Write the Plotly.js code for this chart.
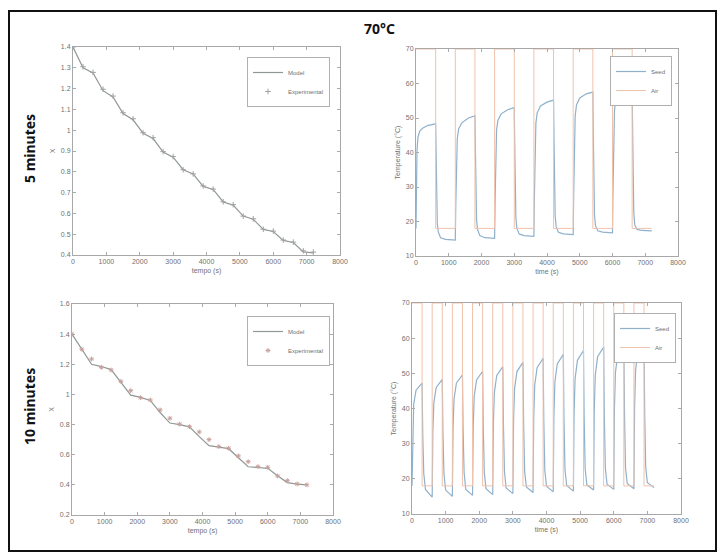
<!DOCTYPE html>
<html>
<head>
<meta charset="utf-8">
<script src="https://cdn.plot.ly/plotly-3.0.1.min.js"></script>
<style>html,body{margin:0;padding:0;background:#fff;}#chart{width:721px;height:555px;}</style>
</head>
<body>
<div id="chart"></div>
<script>
// ---------- Panel A: 5 minutes, moisture X ----------
const timeX = [0,300,600,900,1200,1500,1800,2100,2400,2700,3000,3300,3600,3900,4200,4500,4800,5100,5400,5700,6000,6300,6600,6900,7200];
const modelA = [1.40,1.30,1.275,1.19,1.16,1.08,1.05,0.985,0.96,0.895,0.87,0.81,0.79,0.73,0.715,0.655,0.64,0.587,0.572,0.523,0.513,0.47,0.46,0.415,0.41];
const expA   = [1.40,1.305,1.278,1.197,1.164,1.084,1.055,0.988,0.964,0.897,0.873,0.81,0.79,0.732,0.717,0.656,0.642,0.587,0.574,0.524,0.515,0.472,0.462,0.42,0.414];

// ---------- Panel C: 10 minutes, moisture X ----------
const modelC = [1.40,1.30,1.20,1.185,1.165,1.08,0.995,0.98,0.96,0.88,0.81,0.80,0.785,0.72,0.66,0.65,0.64,0.58,0.52,0.515,0.51,0.46,0.415,0.405,0.40];
const expC   = [1.40,1.30,1.235,1.18,1.162,1.087,1.025,0.978,0.963,0.897,0.842,0.803,0.786,0.751,0.70,0.654,0.643,0.592,0.554,0.521,0.517,0.459,0.428,0.406,0.40];

// ---------- Panel B: temperatures, 600 s steps ----------
const seedB_t = [0,15,30,60,120,200,350,600, 615,630,650,680,750,900,1200,
  1215,1235,1260,1300,1400,1600,1800, 1815,1830,1850,1880,1950,2100,2400,
  2415,2435,2460,2500,2600,2800,3000, 3015,3030,3050,3080,3150,3300,3600,
  3615,3635,3660,3700,3800,4000,4200, 4215,4230,4250,4280,4350,4500,4800,
  4815,4835,4860,4900,5000,5200,5400, 5415,5430,5450,5480,5550,5700,6000,
  6015,6035,6060,6100,6200,6400,6600, 6615,6630,6650,6680,6750,6900,7200];
const seedB_T = [18,32,40.5,44.5,46.3,47.0,47.8,48.3, 38,26,19.5,17,15.3,14.8,14.6,
  25,38,44,46.8,48.6,50.0,50.6, 40,28,20.5,17.6,15.9,15.3,15.1,
  26,40,46.5,49.3,51.2,52.4,53.0, 42,29,21,18,16.4,15.9,15.7,
  27,42,48.5,51.5,53.5,54.6,55.2, 43,30,21.5,18.5,16.9,16.4,16.2,
  28,44,50.5,53.8,55.8,57.0,57.5, 45,31,22,18.8,17.3,16.9,16.7,
  29,45,52,55.8,57.8,59.0,59.6, 46,32,22.5,19,17.7,17.4,17.3];
const airB_t = [0,600,600,1200,1200,1800,1800,2400,2400,3000,3000,3600,3600,4200,4200,4800,4800,5400,5400,6000,6000,6600,6600,7200];
const airB_T = [70,70,18,18,70,70,18,18,70,70,18,18,70,70,18,18,70,70,18,18,70,70,18,18];

// ---------- Panel D: temperatures, 300 s steps ----------
const seedD_t = [0,20,50,120,300, 320,350,400,600,
  620,650,720,900, 920,950,1000,1200,
  1220,1250,1320,1500, 1520,1550,1600,1800,
  1820,1850,1920,2100, 2120,2150,2200,2400,
  2420,2450,2520,2700, 2720,2750,2800,3000,
  3020,3050,3120,3300, 3320,3350,3400,3600,
  3620,3650,3720,3900, 3920,3950,4000,4200,
  4220,4250,4320,4500, 4520,4550,4600,4800,
  4820,4850,4920,5100, 5120,5150,5200,5400,
  5420,5450,5520,5700, 5720,5750,5800,6000,
  6020,6050,6120,6300, 6320,6350,6400,6600,
  6620,6650,6720,6900, 6920,6950,7000,7200];
const seedD_T = [18,34,41.2,45.2,47.2, 32.6,21.5,17.0,14.8,
  33.2,41.6,46.0,48.3, 33.2,21.5,16.8,15.0,
  34.0,42.7,47.2,49.6, 33.8,21.7,17.0,15.3,
  34.7,43.5,48.1,50.6, 34.3,21.8,17.2,15.5,
  35.5,44.6,49.4,51.9, 35.0,22.0,17.4,15.8,
  36.3,45.6,50.5,53.1, 35.6,22.2,17.7,16.1,
  37.1,46.7,51.6,54.3, 36.2,22.4,17.9,16.3,
  37.8,47.6,52.7,55.4, 36.7,22.6,18.1,16.5,
  38.5,48.5,53.7,56.5, 37.3,22.8,18.3,16.8,
  39.2,49.4,54.7,57.5, 37.8,23.0,18.5,17.0,
  39.8,50.2,55.6,58.5, 38.3,23.2,18.7,17.2,
  40.5,51.0,56.5,59.5, 38.8,23.4,18.9,17.5];
const airD_t = [0,300,300,600,600,900,900,1200,1200,1500,1500,1800,1800,2100,2100,2400,2400,2700,2700,3000,3000,3300,3300,3600,3600,3900,3900,4200,4200,4500,4500,4800,4800,5100,5100,5400,5400,5700,5700,6000,6000,6300,6300,6600,6600,6900,6900,7200];
const airD_T = [70,70,18,18,70,70,18,18,70,70,18,18,70,70,18,18,70,70,18,18,70,70,18,18,70,70,18,18,70,70,18,18,70,70,18,18,70,70,18,18,70,70,18,18,70,70,18,18];

const xTicks = [0,1000,2000,3000,4000,5000,6000,7000,8000];
const labels = {title:'70°C', rowA:'5 minutes', rowC:'10 minutes'};

const W = 721, H = 555;
const px = v => v / W;
const py = v => 1 - v / H;

const modelColor = '#8f9894', expColor = '#a0a0a0', expColorC = '#c9a09c';
const seedColor = '#8fb1cc', airColor = '#f1c2ab';
const FONT = 'Liberation Sans, Arial, sans-serif';

const traces = [
  {x: timeX, y: modelA, type:'scatter', mode:'lines', name:'Model', line:{color:modelColor, width:1.2}, xaxis:'x', yaxis:'y', legend:'legend'},
  {x: timeX, y: expA, type:'scatter', mode:'markers', name:'Experimental', marker:{symbol:'cross-thin-open', size:4, color:expColor, line:{color:expColor, width:1}}, xaxis:'x', yaxis:'y', legend:'legend'},
  {x: seedB_t, y: seedB_T, type:'scatter', mode:'lines', name:'Seed', line:{color:seedColor, width:1.2}, xaxis:'x2', yaxis:'y2', legend:'legend2'},
  {x: airB_t, y: airB_T, type:'scatter', mode:'lines', name:'Air', line:{color:airColor, width:1}, xaxis:'x2', yaxis:'y2', legend:'legend2'},
  {x: timeX, y: modelC, type:'scatter', mode:'lines', name:'Model', line:{color:modelColor, width:1.2}, xaxis:'x3', yaxis:'y3', legend:'legend3'},
  {x: timeX, y: expC, type:'scatter', mode:'markers', name:'Experimental', marker:{symbol:'asterisk-open', size:4, color:expColorC, line:{color:expColorC, width:1}}, xaxis:'x3', yaxis:'y3', legend:'legend3'},
  {x: seedD_t, y: seedD_T, type:'scatter', mode:'lines', name:'Seed', line:{color:seedColor, width:1.2}, xaxis:'x4', yaxis:'y4', legend:'legend4'},
  {x: airD_t, y: airD_T, type:'scatter', mode:'lines', name:'Air', line:{color:airColor, width:1}, xaxis:'x4', yaxis:'y4', legend:'legend4'}
];

function xax(domain, anchor, title) {
  return {domain: domain, anchor: anchor, range:[0,8000], tickvals: xTicks, ticks:'inside', ticklen:3, tickcolor:'#aaa',
    showline:true, linecolor:'#a8a8a8', linewidth:1, mirror:'ticks', showgrid:false, zeroline:false,
    tickfont:{family:FONT, size:7, color:'#707070'},
    title:{text:title, font:{family:FONT, size:7, color:'#707070'}, standoff:3}};
}
function yax(domain, anchor, range, dtick, title) {
  return {domain: domain, anchor: anchor, range: range, dtick: dtick, tick0: range[0], ticks:'inside', ticklen:3, tickcolor:'#aaa',
    showline:true, linecolor:'#a8a8a8', linewidth:1, mirror:'ticks', showgrid:false, zeroline:false,
    tickfont:{family:FONT, size:7, color:'#707070'},
    title:{text:title, font:{family:FONT, size:7, color:'#707070'}, standoff:4}};
}
function leg(xr, yt) {
  return {x: px(xr), y: py(yt), xanchor:'right', yanchor:'top', bgcolor:'#fff', bordercolor:'#b0b0b0', borderwidth:1,
    font:{family:FONT, size:6, color:'#707070'}, itemwidth:30, tracegroupgap:0};
}

const layout = {
  width: W, height: H, margin:{l:0,r:0,t:0,b:0}, paper_bgcolor:'#fff', plot_bgcolor:'#fff', showlegend:true,
  xaxis:  xax([px(73), px(340)], 'y', 'tempo (s)'),
  yaxis:  yax([py(255), py(47)], 'x', [0.4,1.4], 0.1, 'X'),
  xaxis2: xax([px(416), px(678)], 'y2', 'time (s)'),
  yaxis2: yax([py(256), py(49)], 'x2', [10,70], 10, 'Temperature (°C)'),
  xaxis3: xax([px(72), px(333)], 'y3', 'tempo (s)'),
  yaxis3: yax([py(515), py(304)], 'x3', [0.2,1.6], 0.2, 'X'),
  xaxis4: xax([px(412), px(681)], 'y4', 'time (s)'),
  yaxis4: yax([py(514), py(303)], 'x4', [10,70], 10, 'Temperature (°C)'),
  legend:  leg(330, 57),
  legend2: leg(672, 56),
  legend3: leg(330, 316),
  legend4: leg(676, 313),
  annotations: [
    {text: labels.title, xref:'paper', yref:'paper', x: px(379), y: py(28), xanchor:'center', yanchor:'middle', showarrow:false, font:{family:'Noto Sans, sans-serif', size:14, color:'#111', weight:'bold'}},
    {text: labels.rowA, xref:'paper', yref:'paper', x: px(30), y: py(149), xanchor:'center', yanchor:'middle', showarrow:false, textangle:-90, font:{family:'Noto Sans, sans-serif', size:14, color:'#111', weight:'bold'}},
    {text: labels.rowC, xref:'paper', yref:'paper', x: px(30), y: py(407), xanchor:'center', yanchor:'middle', showarrow:false, textangle:-90, font:{family:'Noto Sans, sans-serif', size:14, color:'#111', weight:'bold'}}
  ],
  shapes: [
    {type:'rect', xref:'paper', yref:'paper', x0: px(9), x1: px(716), y0: py(551), y1: py(11), line:{color:'#111', width:2}, layer:'above'}
  ]
};

Plotly.newPlot('chart', traces, layout, {displayModeBar:false, staticPlot:true});
</script>
</body>
</html>
